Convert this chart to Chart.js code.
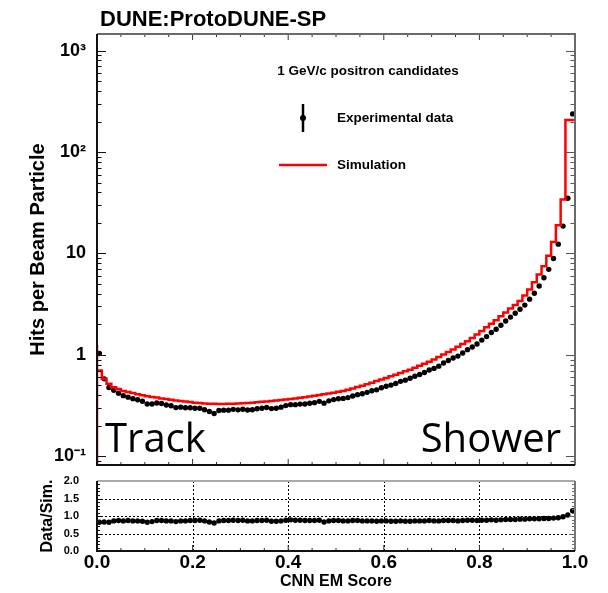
<!DOCTYPE html>
<html>
<head>
<meta charset="utf-8">
<script src="https://cdn.jsdelivr.net/npm/chart.js@4.4.1/dist/chart.umd.min.js"></script>
<style>
  html, body { margin: 0; padding: 0; background: #fff; }
  #wrap { position: relative; width: 608px; height: 593px; }
  #main { position: absolute; left: 0; top: 0; }
  #ratio { position: absolute; left: 0; top: 472px; }
</style>
</head>
<body>
<div id="wrap">
  <canvas id="main" width="608" height="472"></canvas>
  <canvas id="ratio" width="608" height="121"></canvas>
</div>
<script>
// histogram binning (CNN EM score)
const nBins = 100;
const scoreMin = 0.0, scoreMax = 1.0;
const binWidth = (scoreMax - scoreMin) / nBins;
const binLowEdges = Array.from({length: nBins}, (_, i) => +(scoreMin + i * binWidth).toFixed(2));

// hits per beam particle, simulation (red histogram)
const simulation = [
  1.26, 0.70, 0.58, 0.52, 0.48, 0.46, 0.44, 0.43, 0.42, 0.41,
  0.40, 0.39, 0.385, 0.38, 0.372, 0.366, 0.36, 0.355, 0.35, 0.346,
  0.342, 0.338, 0.335, 0.332, 0.33, 0.329, 0.328, 0.328, 0.329, 0.33,
  0.331, 0.333, 0.335, 0.338, 0.341, 0.344, 0.347, 0.351, 0.355, 0.359,
  0.363, 0.367, 0.372, 0.377, 0.383, 0.389, 0.395, 0.402, 0.409, 0.416,
  0.424, 0.432, 0.441, 0.452, 0.466, 0.481, 0.497, 0.514, 0.532, 0.551,
  0.571, 0.592, 0.614, 0.637, 0.662, 0.69, 0.715, 0.745, 0.78, 0.815,
  0.855, 0.90, 0.955, 1.01, 1.07, 1.13, 1.20, 1.28, 1.36, 1.47,
  1.59, 1.72, 1.87, 2.03, 2.20, 2.40, 2.62, 2.86, 3.10, 3.40,
  3.85, 4.40, 5.20, 6.20, 7.50, 9.50, 13.0, 19.0, 34.0, 207
];

// hits per beam particle, experimental data (black points)
const experimental = [
  1.03, 0.58, 0.476, 0.447, 0.418, 0.396, 0.383, 0.37, 0.361, 0.349,
  0.328, 0.328, 0.335, 0.331, 0.32, 0.315, 0.302, 0.305, 0.301, 0.301,
  0.298, 0.297, 0.288, 0.276, 0.264, 0.283, 0.285, 0.285, 0.29, 0.287,
  0.291, 0.286, 0.288, 0.294, 0.297, 0.303, 0.295, 0.298, 0.305, 0.316,
  0.323, 0.323, 0.327, 0.328, 0.333, 0.338, 0.348, 0.334, 0.352, 0.362,
  0.369, 0.372, 0.379, 0.393, 0.405, 0.414, 0.427, 0.442, 0.452, 0.474,
  0.491, 0.503, 0.522, 0.548, 0.563, 0.587, 0.615, 0.641, 0.671, 0.709,
  0.735, 0.774, 0.831, 0.879, 0.931, 0.972, 1.044, 1.126, 1.197, 1.279,
  1.399, 1.514, 1.664, 1.786, 1.958, 2.16, 2.358, 2.574, 2.821, 3.094,
  3.542, 4.048, 4.784, 5.766, 6.975, 8.93, 12.35, 18.62, 35.0, 238
];

// Data/Sim. ratio panel
const ratio = [
  0.82, 0.83, 0.82, 0.86, 0.87, 0.86, 0.87, 0.86, 0.86, 0.85,
  0.82, 0.84, 0.87, 0.87, 0.86, 0.86, 0.84, 0.86, 0.86, 0.87,
  0.87, 0.88, 0.86, 0.83, 0.80, 0.86, 0.87, 0.87, 0.88, 0.87,
  0.88, 0.86, 0.86, 0.87, 0.87, 0.88, 0.85, 0.85, 0.86, 0.88,
  0.89, 0.88, 0.88, 0.87, 0.87, 0.87, 0.88, 0.83, 0.86, 0.87,
  0.87, 0.86, 0.86, 0.87, 0.87, 0.86, 0.86, 0.86, 0.85, 0.86,
  0.86, 0.85, 0.85, 0.86, 0.85, 0.85, 0.86, 0.86, 0.86, 0.87,
  0.86, 0.86, 0.87, 0.87, 0.87, 0.86, 0.87, 0.88, 0.88, 0.87,
  0.88, 0.88, 0.89, 0.88, 0.89, 0.90, 0.90, 0.90, 0.91, 0.91,
  0.92, 0.92, 0.92, 0.93, 0.93, 0.94, 0.95, 0.98, 1.03, 1.15
];

// axis ranges and tick labels
const yMin = 0.082, yMax = 1460;
const logTicks = [0.1, 1, 10, 100, 1000];
const logTickLabels = ['10\u207B\u00B9', '1', '10', '10\u00B2', '10\u00B3'];
const ratioMin = 0, ratioMax = 2;
const ratioTicks = [0, 0.5, 1.0, 1.5, 2.0];
const scoreTicks = [0, 0.2, 0.4, 0.6, 0.8, 1.0];

const rootFont = "'Liberation Sans', Arial, sans-serif";

// keep label overhang from moving the frame
function noPad(s) {
  s.paddingTop = 0; s.paddingBottom = 0; s.paddingLeft = 0; s.paddingRight = 0;
}

// ROOT-like frame: inward ticks on all sides
function drawXTicks(ctx, xs, area, top, bottom) {
  for (let k = 0; k <= 20; k++) {
    const v = k * 0.05;
    const px = xs.getPixelForValue(v);
    const len = k % 4 === 0 ? 6 : 3;
    if (bottom) { ctx.beginPath(); ctx.moveTo(px, area.bottom); ctx.lineTo(px, area.bottom - len); ctx.stroke(); }
    if (top) { ctx.beginPath(); ctx.moveTo(px, area.top); ctx.lineTo(px, area.top + len); ctx.stroke(); }
  }
}

const mainFrame = {
  id: 'mainFrame',
  afterDatasetsDraw(chart) {
    const {ctx, chartArea: a, scales} = chart;
    const ys = scales.y, xs = scales.x;
    ctx.save();
    ctx.lineWidth = 1;
    // y ticks (log, major + minor), left and right
    for (let e = -2; e <= 3; e++) {
      for (let m = 1; m <= 9; m++) {
        const v = m * Math.pow(10, e);
        if (v < yMin || v > yMax) continue;
        const py = Math.round(ys.getPixelForValue(v)) + 0.5;
        const len = m === 1 ? 9 : 4.5;
        ctx.strokeStyle = '#111';
        ctx.beginPath(); ctx.moveTo(a.left, py); ctx.lineTo(a.left + len, py); ctx.stroke();
        ctx.strokeStyle = '#555';
        ctx.beginPath(); ctx.moveTo(a.right, py); ctx.lineTo(a.right - len, py); ctx.stroke();
      }
    }
    ctx.strokeStyle = '#333';
    drawXTicks(ctx, xs, a, true, true);
    // frame
    ctx.lineWidth = 2;
    ctx.strokeStyle = '#6a6a6a';
    ctx.beginPath(); ctx.moveTo(a.left, a.top); ctx.lineTo(a.right, a.top); ctx.lineTo(a.right, a.bottom); ctx.stroke();
    ctx.strokeStyle = '#111';
    ctx.beginPath(); ctx.moveTo(a.left, a.top); ctx.lineTo(a.left, a.bottom); ctx.lineTo(a.right, a.bottom); ctx.stroke();

    // title and legend
    ctx.fillStyle = '#000';
    ctx.textBaseline = 'middle';
    ctx.textAlign = 'left';
    ctx.font = 'bold 22px ' + rootFont;
    ctx.fillText('DUNE:ProtoDUNE-SP', 100, 20);
    ctx.font = 'bold 13.5px ' + rootFont;
    ctx.textAlign = 'center';
    ctx.fillText('1 GeV/c positron candidates', 368, 71);
    ctx.textAlign = 'left';
    ctx.fillText('Experimental data', 337, 118);
    ctx.fillText('Simulation', 337, 165);
    ctx.lineWidth = 2.5;
    ctx.strokeStyle = '#000';
    ctx.beginPath(); ctx.moveTo(303, 104); ctx.lineTo(303, 132); ctx.stroke();
    ctx.beginPath(); ctx.arc(303, 118, 3, 0, Math.PI * 2); ctx.fill();
    ctx.strokeStyle = '#ff0000';
    ctx.beginPath(); ctx.moveTo(279, 165); ctx.lineTo(327, 165); ctx.stroke();

    // region annotations
    ctx.font = "40px 'Open Sans', sans-serif";
    ctx.textBaseline = 'alphabetic';
    ctx.fillText('Track', 105, 452);
    ctx.textAlign = 'right';
    ctx.fillText('Shower', 561, 452);
    ctx.restore();
  }
};

const ratioFrame = {
  id: 'ratioFrame',
  beforeDatasetsDraw(chart) {
    const {ctx, chartArea: a, scales} = chart;
    ctx.save();
    ctx.lineWidth = 1;
    ctx.strokeStyle = '#000';
    ctx.setLineDash([2, 2]);
    scoreTicks.slice(1, -1).forEach(v => {
      const px = Math.round(scales.x.getPixelForValue(v)) + 0.5;
      ctx.beginPath(); ctx.moveTo(px, a.top); ctx.lineTo(px, a.bottom); ctx.stroke();
    });
    ratioTicks.slice(1, -1).forEach(v => {
      const py = Math.round(scales.y.getPixelForValue(v)) + 0.5;
      ctx.beginPath(); ctx.moveTo(a.left, py); ctx.lineTo(a.right, py); ctx.stroke();
    });
    ctx.restore();
  },
  afterDatasetsDraw(chart) {
    const {ctx, chartArea: a, scales} = chart;
    ctx.save();
    ctx.lineWidth = 1;
    for (let k = 0; k <= 20; k++) {
      const v = k * 0.1;
      const py = Math.round(scales.y.getPixelForValue(v)) + 0.5;
      const len = k % 5 === 0 ? 6 : 3;
      ctx.strokeStyle = '#111';
      ctx.beginPath(); ctx.moveTo(a.left, py); ctx.lineTo(a.left + len, py); ctx.stroke();
      ctx.strokeStyle = '#666';
      ctx.beginPath(); ctx.moveTo(a.right, py); ctx.lineTo(a.right - len, py); ctx.stroke();
    }
    ctx.strokeStyle = '#333';
    drawXTicks(ctx, scales.x, a, false, true);
    ctx.lineWidth = 2;
    ctx.strokeStyle = '#aaa';
    ctx.beginPath(); ctx.moveTo(a.left, a.top); ctx.lineTo(a.right, a.top); ctx.stroke();
    ctx.strokeStyle = '#777';
    ctx.beginPath(); ctx.moveTo(a.right, a.top); ctx.lineTo(a.right, a.bottom); ctx.stroke();
    ctx.strokeStyle = '#111';
    ctx.beginPath(); ctx.moveTo(a.left, a.top); ctx.lineTo(a.left, a.bottom); ctx.lineTo(a.right, a.bottom); ctx.stroke();
    ctx.restore();
  }
};

const simSteps = [{x: scoreMin, y: yMin}]
  .concat(binLowEdges.map((x, i) => ({x: x, y: simulation[i]})))
  .concat([{x: scoreMax, y: simulation[nBins - 1]}]);
const dataPoints = binLowEdges.map((x, i) => ({x: x + binWidth / 2, y: experimental[i]}));
const ratioPoints = binLowEdges.map((x, i) => ({x: x + binWidth / 2, y: ratio[i]}));

const common = {
  responsive: false,
  animation: false,
  events: [],
  devicePixelRatio: 1,
  plugins: { legend: { display: false }, tooltip: { enabled: false } }
};

new Chart(document.getElementById('main'), {
  type: 'scatter',
  data: {
    datasets: [{
      type: 'line',
      label: 'Simulation',
      data: simSteps,
      stepped: 'after',
      borderColor: '#ff0000',
      borderWidth: 2.5,
      pointRadius: 0,
      fill: false
    }, {
      label: 'Experimental data',
      data: dataPoints,
      pointRadius: 2.7,
      pointBackgroundColor: '#000',
      pointBorderWidth: 0,
      showLine: false
    }]
  },
  options: Object.assign({}, common, {
    layout: { padding: { left: 0, right: 33, top: 34, bottom: 7 } },
    scales: {
      x: { type: 'linear', min: scoreMin, max: scoreMax, display: false },
      y: {
        type: 'logarithmic',
        min: yMin,
        max: yMax,
        grid: { display: false, drawTicks: false },
        border: { display: false },
        afterBuildTicks: s => { s.ticks = logTicks.map(v => ({value: v})); },
        afterFit: s => { s.width = 97; noPad(s); },
        ticks: {
          autoSkip: false,
          padding: 11,
          color: '#000',
          font: { family: rootFont, size: 18, weight: 'bold' },
          callback: v => logTickLabels[logTicks.indexOf(v)]
        },
        title: {
          display: true,
          text: 'Hits per Beam Particle',
          color: '#000',
          font: { family: rootFont, size: 20, weight: 'bold' },
          padding: { top: 26, bottom: 0 }
        }
      }
    }
  }),
  plugins: [mainFrame]
});

new Chart(document.getElementById('ratio'), {
  type: 'scatter',
  data: {
    datasets: [{
      label: 'Data/Sim.',
      data: ratioPoints,
      pointRadius: 2.7,
      pointBackgroundColor: '#000',
      pointBorderWidth: 0,
      showLine: false
    }]
  },
  options: Object.assign({}, common, {
    layout: { padding: { left: 0, right: 33, top: 9, bottom: 0 } },
    scales: {
      x: {
        type: 'linear',
        min: scoreMin,
        max: scoreMax,
        grid: { display: false, drawTicks: false },
        border: { display: false },
        afterBuildTicks: s => { s.ticks = scoreTicks.map(v => ({value: v})); },
        afterFit: s => { s.height = 42; noPad(s); },
        ticks: {
          autoSkip: false,
          maxRotation: 0,
          padding: 0,
          color: '#000',
          font: { family: rootFont, size: 19, weight: 'bold' },
          callback: v => v.toFixed(1)
        },
        title: {
          display: true,
          text: 'CNN EM Score',
          color: '#000',
          font: { family: rootFont, size: 16, weight: 'bold' },
          padding: { top: 0, bottom: 2 }
        }
      },
      y: {
        min: ratioMin,
        max: ratioMax,
        grid: { display: false, drawTicks: false },
        border: { display: false },
        afterBuildTicks: s => { s.ticks = ratioTicks.map(v => ({value: v})); },
        afterFit: s => { s.width = 97; noPad(s); },
        ticks: {
          autoSkip: false,
          padding: 18,
          color: '#000',
          font: { family: rootFont, size: 11, weight: 'bold' },
          callback: v => v.toFixed(1)
        },
        title: {
          display: true,
          text: 'Data/Sim.',
          color: '#000',
          font: { family: rootFont, size: 16, weight: 'bold' },
          padding: { top: 38, bottom: 0 }
        }
      }
    }
  }),
  plugins: [ratioFrame]
});
</script>
</body>
</html>
